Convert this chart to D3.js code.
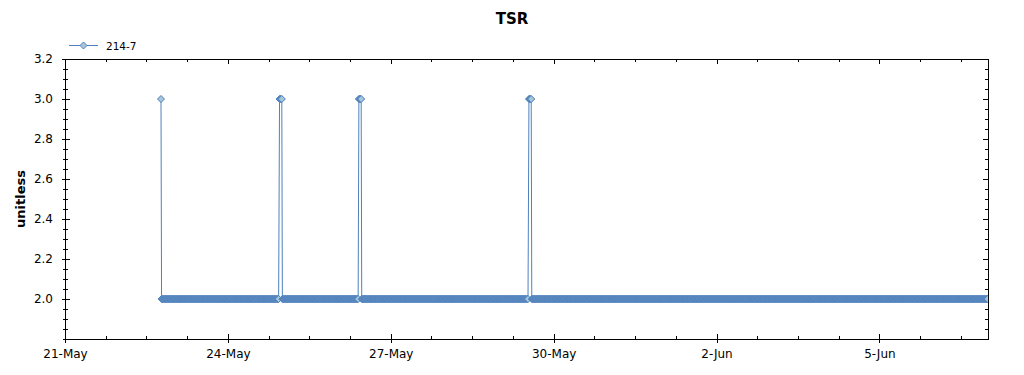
<!DOCTYPE html>
<html lang="en">
<head>
<meta charset="UTF-8">
<title>TSR</title>
<style>
  body { margin: 0; background: #fff; }
  .axis text { font: 12px "DejaVu Sans", sans-serif; fill: #000; }
  .axis path, .axis line { fill: none; stroke: #000; shape-rendering: crispEdges; }
</style>
</head>
<body>
<svg id="chart"></svg>
<script src="https://cdn.jsdelivr.net/npm/d3@7"></script>
<script>
// series: readings logged every 15 minutes, stored as runs of constant value
var seriesName = "214-7";
var sampleMinutes = 15;
var runStart = ["2021-05-22T18:26Z", "2021-05-22T18:41Z", "2021-05-24T22:50Z", "2021-05-25T00:05Z",
                "2021-05-26T09:55Z", "2021-05-26T11:10Z", "2021-05-29T13:05Z", "2021-05-29T14:20Z"];
var runEnd   = ["2021-05-22T18:26Z", "2021-05-24T22:35Z", "2021-05-24T23:50Z", "2021-05-26T09:40Z",
                "2021-05-26T10:55Z", "2021-05-29T12:50Z", "2021-05-29T14:05Z", "2021-06-07T00:00Z"];
var runValue = [3.0, 2.0, 3.0, 2.0, 3.0, 2.0, 3.0, 2.0];

var xDomain = ["2021-05-21T00:00Z", "2021-06-07T00:00Z"];
var xLabelDates = ["2021-05-21", "2021-05-24", "2021-05-27", "2021-05-30", "2021-06-02", "2021-06-05"];
var yDomain = [1.8, 3.2];
var yLabelTicks = [2.0, 2.2, 2.4, 2.6, 2.8, 3.0, 3.2];

var width = 1024, height = 375;
var margin = { top: 59, right: 36, bottom: 36, left: 65 };

var data = [];
runStart.forEach(function(s, i) {
  var t0 = new Date(s).getTime(), t1 = new Date(runEnd[i]).getTime();
  for (var t = t0; t <= t1; t += sampleMinutes * 60000) {
    data.push({ date: new Date(t), value: runValue[i] });
  }
});

var svg = d3.select("#chart").attr("width", width).attr("height", height);

var x = d3.scaleUtc()
  .domain(xDomain.map(function(d) { return new Date(d); }))
  .range([margin.left, width - margin.right]);
var y = d3.scaleLinear()
  .domain(yDomain)
  .range([height - margin.bottom, margin.top]);

var x0 = x.range()[0], x1 = x.range()[1], y0 = y.range()[0], y1 = y.range()[1];

// tick positions: labelled every 3 days, minor every 18 hours
var xMajor = xLabelDates.map(function(d) { return new Date(d + "T00:00Z"); });
var xMinor = [];
var step = 18 * 3600000;
for (var t = x.domain()[0].getTime(); t <= x.domain()[1].getTime(); t += step) xMinor.push(new Date(t));
var yMinor = d3.range(yDomain[0], yDomain[1] + 0.001, 0.05);

var fmt = d3.utcFormat("%-d-%b");

// bottom axis
svg.append("g").attr("class", "axis")
  .attr("transform", "translate(0," + y0 + ")")
  .call(d3.axisBottom(x).tickValues(xMinor).tickSize(-3).tickFormat(""));
svg.append("g").attr("class", "axis")
  .attr("transform", "translate(0," + y0 + ")")
  .call(d3.axisBottom(x).tickValues(xMajor).tickSize(-5).tickFormat(""));
svg.append("g").attr("class", "axis")
  .attr("transform", "translate(0," + y0 + ")")
  .call(d3.axisBottom(x).tickValues(xMajor).tickSize(4).tickPadding(6).tickFormat(fmt))
  .call(function(g) { g.select(".domain").remove(); });

// top axis
svg.append("g").attr("class", "axis")
  .attr("transform", "translate(0," + y1 + ")")
  .call(d3.axisTop(x).tickValues(xMinor).tickSize(-3).tickFormat(""));
svg.append("g").attr("class", "axis")
  .attr("transform", "translate(0," + y1 + ")")
  .call(d3.axisTop(x).tickValues(xMajor).tickSize(-5).tickFormat(""));

// left axis
svg.append("g").attr("class", "axis")
  .attr("transform", "translate(" + x0 + ",0)")
  .call(d3.axisLeft(y).tickValues(yMinor).tickSize(-3).tickFormat(""));
svg.append("g").attr("class", "axis")
  .attr("transform", "translate(" + x0 + ",0)")
  .call(d3.axisLeft(y).tickValues(yLabelTicks).tickSize(-5).tickFormat(""));
svg.append("g").attr("class", "axis")
  .attr("transform", "translate(" + x0 + ",0)")
  .call(d3.axisLeft(y).tickValues(yMinor).tickSize(2).tickFormat(""))
  .call(function(g) { g.select(".domain").remove(); });
svg.append("g").attr("class", "axis")
  .attr("transform", "translate(" + x0 + ",0)")
  .call(d3.axisLeft(y).tickValues(yLabelTicks).tickSize(3).tickPadding(9).tickFormat(d3.format(".1f")))
  .call(function(g) { g.select(".domain").remove(); });

// right axis
svg.append("g").attr("class", "axis")
  .attr("transform", "translate(" + x1 + ",0)")
  .call(d3.axisRight(y).tickValues(yMinor).tickSize(-3).tickFormat(""));
svg.append("g").attr("class", "axis")
  .attr("transform", "translate(" + x1 + ",0)")
  .call(d3.axisRight(y).tickValues(yLabelTicks).tickSize(-5).tickFormat(""));

// plot clip
svg.append("clipPath").attr("id", "plot-clip")
  .append("rect")
  .attr("x", x0).attr("y", y1 - 6)
  .attr("width", x1 - x0).attr("height", y0 - y1 + 6);

var plot = svg.append("g").attr("clip-path", "url(#plot-clip)");

var line = d3.line()
  .x(function(d) { return x(d.date); })
  .y(function(d) { return y(d.value); });

plot.append("path")
  .datum(data)
  .attr("fill", "none")
  .attr("stroke", "#4f81bd")
  .attr("stroke-width", 1)
  .attr("d", line);

var diamond = "M0,-3.5L3.5,0L0,3.5L-3.5,0Z";

plot.selectAll(".pt")
  .data(data)
  .enter().append("path")
  .attr("class", "pt")
  .attr("d", diamond)
  .attr("transform", function(d) { return "translate(" + x(d.date) + "," + y(d.value) + ")"; })
  .attr("fill", "#a9c5da")
  .attr("stroke", "#4f81bd")
  .attr("stroke-width", 1);

// title
svg.append("text")
  .attr("x", width / 2)
  .attr("y", 24)
  .attr("text-anchor", "middle")
  .style("font", "bold 15px 'DejaVu Sans', sans-serif")
  .text("TSR");

// y label
svg.append("text")
  .attr("transform", "translate(25," + ((y0 + y1) / 2) + ") rotate(-90)")
  .attr("text-anchor", "middle")
  .style("font", "bold 13px 'DejaVu Sans', sans-serif")
  .text("unitless");

// legend
var legend = svg.append("g").attr("transform", "translate(69,45.5)");
legend.append("line")
  .attr("x1", 0).attr("x2", 29)
  .attr("stroke", "#4f81bd").attr("stroke-width", 1);
legend.append("path")
  .attr("d", diamond)
  .attr("transform", "translate(14.5,0)")
  .attr("fill", "#a9c5da")
  .attr("stroke", "#4f81bd");
legend.append("text")
  .attr("x", 37).attr("y", 4)
  .style("font", "10.5px 'DejaVu Sans', sans-serif")
  .text(seriesName);
</script>
</body>
</html>
